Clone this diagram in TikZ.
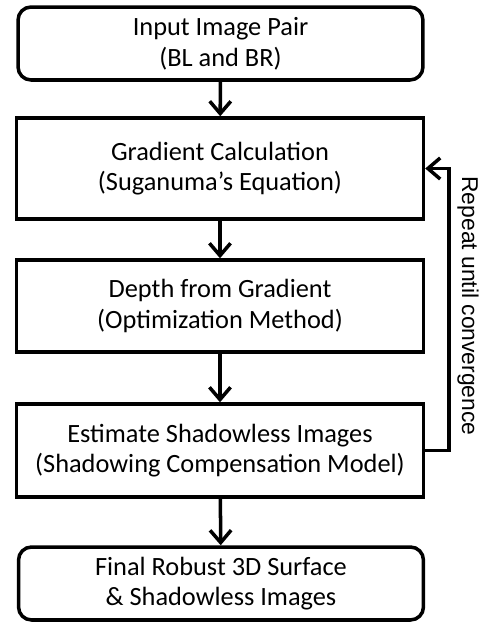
\documentclass[tikz,border=0pt]{standalone}
\usepackage{fontspec}
\setmainfont{Carlito}
\newfontfamily\loopfont{Liberation Sans}
\usepackage{tikz}
\usetikzlibrary{
  positioning
  , arrows.meta
}

\tikzset{
  stepbox/.style={draw, line width=2pt, align=center,
    minimum width=8.14cm, font=\fontsize{15}{17.5}\selectfont},
  endbox/.style={stepbox, rounded corners=0.26cm, minimum width=8.1cm},
  flow/.style={-{Straight Barb[length=7pt,width=12pt,line width=2pt]}, line width=2pt},
}

\begin{document}
\begin{tikzpicture}[x=0.02cm, y=-0.02cm]
      \useasboundingbox (0,0) rectangle (483,623);

      \node [endbox, minimum height=1.46cm] (Input) at (220.5,43.5)
        {Input Image Pair\\(BL and BR)};
      \node [stepbox, minimum height=2.02cm] (Grad) at (220,168.5)
        {Gradient Calculation\\(Suganuma's Equation)};
      \node [stepbox, minimum height=1.84cm] (Depth) at (220,306)
        {Depth from Gradient\\(Optimization Method)};
      \node [stepbox, minimum height=1.86cm] (Est) at (220,450.5)
        {Estimate Shadowless Images\\(Shadowing Compensation Model)};
      \node [endbox, minimum height=1.46cm] (Final) at (221,583.5)
        {Final Robust 3D Surface\\\& Shadowless Images};

      \draw[flow] (Input) -- (Grad);
      \draw[flow] (Grad) -- (Depth);
      \draw[flow] (Depth) -- (Est);
      \draw[flow] (Est) -- (Final);

      % loop back
      \draw[flow] (Est.east) -- ++(24,0) coordinate (loopR)
        |- (Grad.east);
      \node [rotate=-90, font=\loopfont\fontsize{13}{15}\selectfont] (Repeat) at (468,306)
        {Repeat until convergence};

\end{tikzpicture}
\end{document}
